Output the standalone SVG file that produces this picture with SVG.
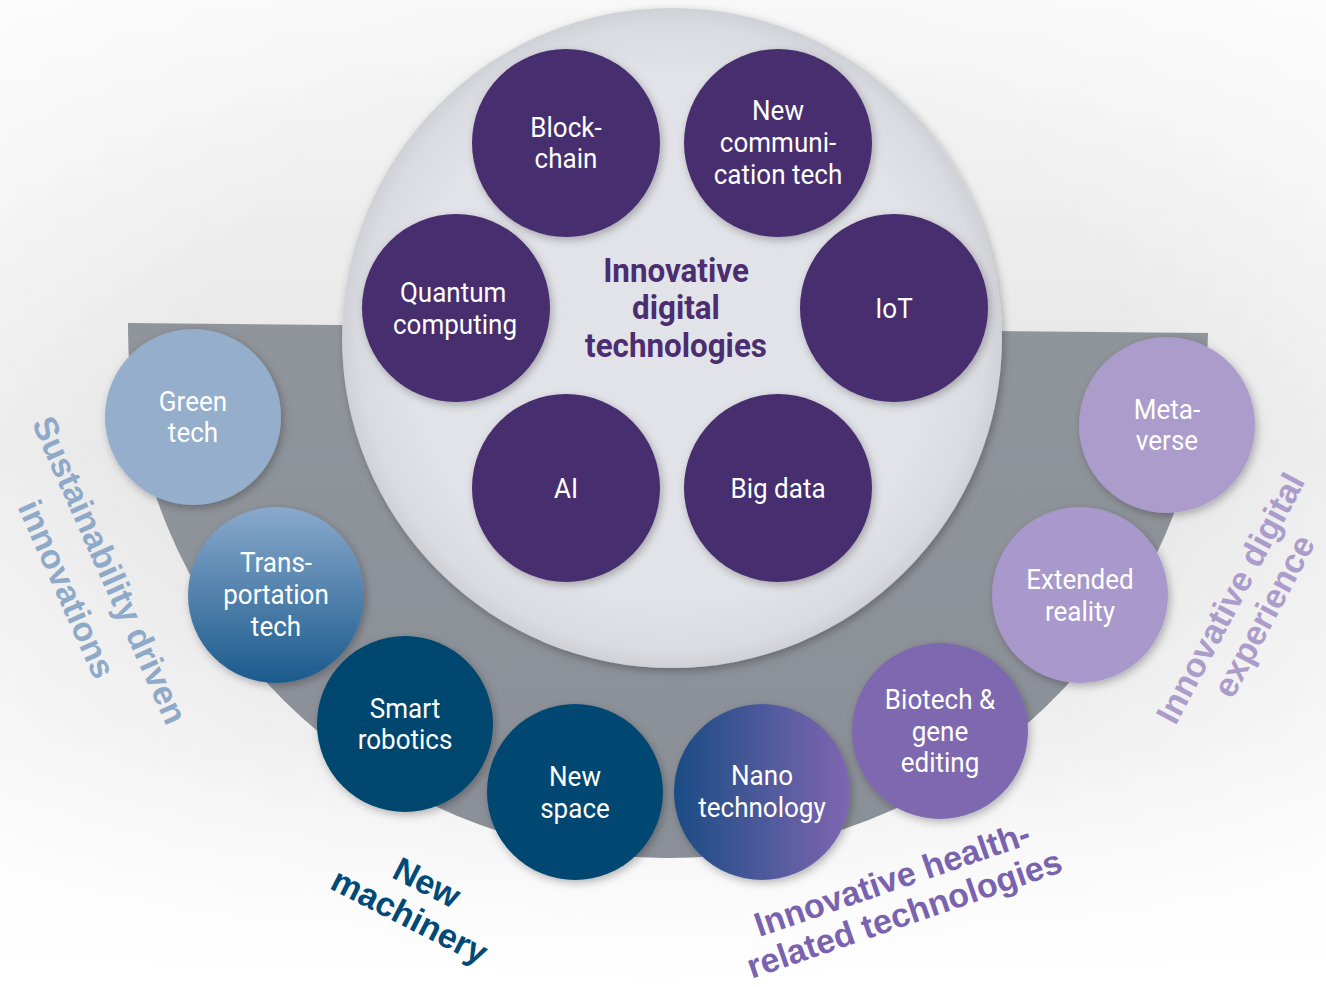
<svg xmlns="http://www.w3.org/2000/svg" width="1326" height="987" viewBox="0 0 1326 987">
<defs>
<linearGradient id="bg" x1="0" y1="0" x2="0" y2="1">
<stop offset="0" stop-color="#f7f7f7"/>
<stop offset="0.45" stop-color="#e4e4e5"/>
<stop offset="0.75" stop-color="#ebebeb"/>
<stop offset="1" stop-color="#ffffff"/>
</linearGradient>
<radialGradient id="bgl" cx="0.5" cy="0.4" r="0.7">
<stop offset="0.5" stop-color="#ffffff" stop-opacity="0"/>
<stop offset="1" stop-color="#ffffff" stop-opacity="0.8"/>
</radialGradient>
<radialGradient id="core" cx="0.5" cy="0.5" r="0.5">
<stop offset="0.8" stop-color="#e2e3e8"/>
<stop offset="0.95" stop-color="#dadbe1"/>
<stop offset="1" stop-color="#d0d1d7"/>
</radialGradient>
<linearGradient id="bowl" x1="0" y1="0" x2="0" y2="1">
<stop offset="0" stop-color="#90949b"/>
<stop offset="1" stop-color="#8b8f97"/>
</linearGradient>
<linearGradient id="trans" x1="0" y1="0" x2="0" y2="1">
<stop offset="0" stop-color="#89a9cc"/>
<stop offset="1" stop-color="#1b5a8c"/>
</linearGradient>
<linearGradient id="nano" x1="0" y1="0" x2="1" y2="0">
<stop offset="0" stop-color="#1a4c84"/>
<stop offset="1" stop-color="#7f66b1"/>
</linearGradient>
<filter id="sh" x="-20%" y="-20%" width="140%" height="140%">
<feDropShadow dx="2" dy="3" stdDeviation="4" flood-color="#000" flood-opacity="0.28"/>
</filter>
</defs>
<style>
.ct{font-family:"Roboto",sans-serif;font-size:28px;fill:#ffffff;text-anchor:middle}
.purple{fill:#472d6e}
.lab{font-family:"Liberation Sans",Arial,sans-serif;font-weight:bold;font-size:34px;text-anchor:middle}
.core{font-family:"Roboto",sans-serif;font-weight:bold;font-size:33px;fill:#4b2d70;text-anchor:middle}
</style>
<rect width="1326" height="987" fill="url(#bg)"/>
<rect width="1326" height="987" fill="url(#bgl)"/>
<g id="bowl-shape">
<path d="M128,323 L1208,333 A540,530 0 0 1 128,323 Z" fill="url(#bowl)"/>
</g>
<g id="core-circle">
<circle cx="672" cy="338" r="330" fill="url(#core)" filter="url(#sh)"/>
<text class="core" transform="translate(676,0) scale(0.95,1)"><tspan x="0" y="282">Innovative</tspan><tspan x="0" y="319">digital</tspan><tspan x="0" y="357">technologies</tspan></text>
</g>
<g id="connectors"></g>
<g id="blockchain"><circle cx="566" cy="143" r="94" class="purple" filter="url(#sh)"/><text class="ct" transform="translate(566,0) scale(0.93,1)"><tspan x="0" y="137">Block-</tspan><tspan x="0" y="168">chain</tspan></text></g>
<g id="newcomm"><circle cx="778" cy="143" r="94" class="purple" filter="url(#sh)"/><text class="ct" transform="translate(778,0) scale(0.93,1)"><tspan x="0" y="120">New</tspan><tspan x="0" y="152">communi-</tspan><tspan x="0" y="184">cation tech</tspan></text></g>
<g id="quantum"><circle cx="456" cy="308" r="94" class="purple" filter="url(#sh)"/><text class="ct" transform="translate(455,0) scale(0.93,1)"><tspan x="-2" y="302">Quantum</tspan><tspan x="0" y="334">computing</tspan></text></g>
<g id="iot"><circle cx="894" cy="308" r="94" class="purple" filter="url(#sh)"/><text class="ct" transform="translate(894,0) scale(0.93,1)" x="0" y="318">IoT</text></g>
<g id="ai"><circle cx="566" cy="488" r="94" class="purple" filter="url(#sh)"/><text class="ct" transform="translate(566,0) scale(0.93,1)" x="0" y="498">AI</text></g>
<g id="bigdata"><circle cx="778" cy="488" r="94" class="purple" filter="url(#sh)"/><text class="ct" transform="translate(778,0) scale(0.93,1)" x="0" y="498">Big data</text></g>
<g id="greentech"><circle cx="193" cy="417" r="88" fill="#94aecb" filter="url(#sh)"/><text class="ct" transform="translate(193,0) scale(0.93,1)"><tspan x="0" y="411">Green</tspan><tspan x="0" y="442">tech</tspan></text></g>
<g id="transport"><circle cx="276" cy="595" r="88" fill="url(#trans)" filter="url(#sh)"/><text class="ct" transform="translate(276,0) scale(0.93,1)"><tspan x="0" y="572">Trans-</tspan><tspan x="0" y="604">portation</tspan><tspan x="0" y="636">tech</tspan></text></g>
<g id="robotics"><circle cx="405" cy="724" r="88" fill="#00476f" filter="url(#sh)"/><text class="ct" transform="translate(405,0) scale(0.93,1)"><tspan x="0" y="718">Smart</tspan><tspan x="0" y="749">robotics</tspan></text></g>
<g id="newspace"><circle cx="575" cy="792" r="88" fill="#004672" filter="url(#sh)"/><text class="ct" transform="translate(575,0) scale(0.93,1)"><tspan x="0" y="786">New</tspan><tspan x="0" y="818">space</tspan></text></g>
<g id="nano"><circle cx="762" cy="792" r="88" fill="url(#nano)" filter="url(#sh)"/><text class="ct" transform="translate(762,0) scale(0.93,1)"><tspan x="0" y="785">Nano</tspan><tspan x="0" y="817">technology</tspan></text></g>
<g id="biotech"><circle cx="940" cy="731" r="88" fill="#7e67b0" filter="url(#sh)"/><text class="ct" transform="translate(940,0) scale(0.93,1)"><tspan x="0" y="709">Biotech &amp;</tspan><tspan x="0" y="741">gene</tspan><tspan x="0" y="772">editing</tspan></text></g>
<g id="xr"><circle cx="1080" cy="595" r="88" fill="#a898cb" filter="url(#sh)"/><text class="ct" transform="translate(1080,0) scale(0.93,1)"><tspan x="0" y="589">Extended</tspan><tspan x="0" y="621">reality</tspan></text></g>
<g id="metaverse"><circle cx="1167" cy="425" r="88" fill="#ab9ccb" filter="url(#sh)"/><text class="ct" transform="translate(1167,0) scale(0.93,1)"><tspan x="0" y="419">Meta-</tspan><tspan x="0" y="450">verse</tspan></text></g>
<g id="label-sustain">
<text class="lab" fill="#8fa9c8" transform="translate(110,570) rotate(66)"><tspan x="0" y="12">Sustainability driven</tspan><tspan x="0" y="59">innovations</tspan></text>
</g>
<g id="label-digital">
<text class="lab" fill="#ab9ccb" font-size="32" transform="translate(1230,598) rotate(-62)"><tspan x="0" y="12">Innovative digital</tspan><tspan x="0" y="50">experience</tspan></text>
</g>
<g id="label-machinery">
<text class="lab" fill="#004a78" transform="translate(418,900) rotate(27)"><tspan x="0" y="-8">New</tspan><tspan x="0" y="30">machinery</tspan></text>
</g>
<g id="label-health">
<text class="lab" fill="#7a63ae" transform="translate(896,890) rotate(-19)"><tspan x="0" y="0">Innovative health-</tspan><tspan x="0" y="37">related technologies</tspan></text>
</g>
</svg>
